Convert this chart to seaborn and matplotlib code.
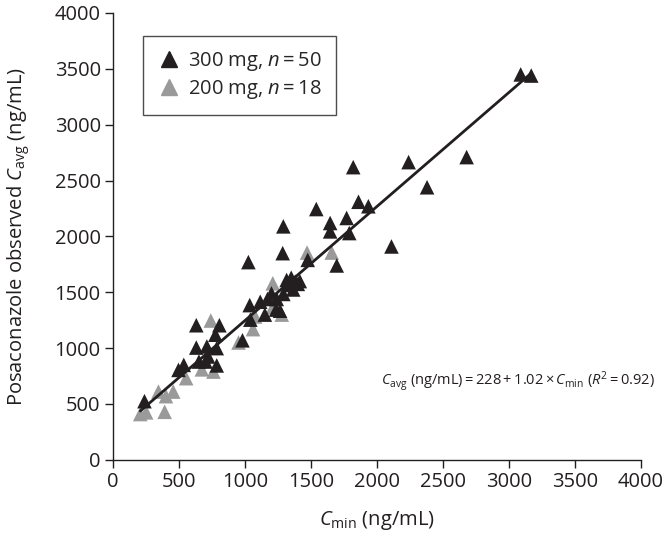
import numpy as np
import pandas as pd
import matplotlib
matplotlib.use("Agg")
import matplotlib.pyplot as plt
import seaborn as sns

# Data (ng/mL)
cmin_300 = [3090, 3170, 2680, 2380, 2240, 2110, 1935, 1860, 1820, 1790,
            1770, 1695, 1645, 1645, 1540, 1475, 1290, 1285, 1025, 1315,
            1380, 1400, 1330, 1365, 1200, 1290, 1240, 1115, 1035, 1040,
            1150, 1265, 980, 630, 805, 775, 630, 710, 785, 650,
            700, 785, 535, 495, 237, 1235, 1350, 720, 1170, 1415]
cavg_300 = [3450, 3440, 2710, 2440, 2665, 1910, 2270, 2310, 2620, 2030,
            2165, 1740, 2045, 2120, 2245, 1790, 2090, 1850, 1770, 1610,
            1595, 1575, 1565, 1525, 1490, 1485, 1440, 1415, 1385, 1255,
            1300, 1335, 1070, 1205, 1205, 1120, 1005, 1015, 1000, 880,
            880, 845, 850, 805, 525, 1345, 1630, 925, 1440, 1600]

cmin_200 = [205, 250, 343, 390, 400, 455, 553, 672, 760, 740,
            950, 1060, 1076, 1210, 1210, 1278, 1470, 1657]
cavg_200 = [410, 425, 611, 430, 570, 611, 731, 810, 790, 1247,
            1050, 1170, 1283, 1580, 1366, 1300, 1855, 1855]

# regression reported in the figure
intercept = 228
slope = 1.02
r2 = 0.92

labels = [r"300 mg, $n = 50$", r"200 mg, $n = 18$"]
colors = ["#231f20", "#9a9a9a"]

df = pd.DataFrame({
    "cmin": cmin_200 + cmin_300,
    "cavg": cavg_200 + cavg_300,
    "group": [labels[1]] * len(cmin_200) + [labels[0]] * len(cmin_300),
})

sns.set_style("ticks")
plt.rcParams["font.family"] = ["Open Sans", "DejaVu Sans"]
plt.rcParams["mathtext.fontset"] = "custom"
plt.rcParams["mathtext.rm"] = "Open Sans"
plt.rcParams["mathtext.it"] = "Open Sans:italic"
plt.rcParams["mathtext.bf"] = "Open Sans:bold"

fig = plt.figure(figsize=(6.66, 5.41), dpi=100)
ax = fig.add_axes([0.170, 0.150, 0.792, 0.826])

sns.scatterplot(data=df, x="cmin", y="cavg", hue="group",
                hue_order=[labels[1], labels[0]],
                palette={labels[0]: colors[0], labels[1]: colors[1]},
                marker="^", s=110, linewidth=0, ax=ax, legend=False, zorder=2)

# fitted line across the observed Cmin range
xs = np.array([min(df["cmin"]), max(df["cmin"])])
ax.plot(xs, intercept + slope * xs, color="#231f20", lw=2, zorder=3)

ax.set_xlim(0, 4000)
ax.set_ylim(0, 4000)
ax.set_xticks(range(0, 4001, 500))
ax.set_yticks(range(0, 4001, 500))
ax.tick_params(labelsize=14.5, colors="#231f20", direction="out", length=6, width=1, pad=3)
for s in ["left", "bottom"]:
    ax.spines[s].set_color("#231f20")
    ax.spines[s].set_linewidth(1)
sns.despine(ax=ax)

ax.set_xlabel(r"$C_{\mathrm{min}}$ (ng/mL)", fontsize=14.5, color="#231f20", labelpad=12)
ax.set_ylabel(r"Posaconazole observed $C_{\mathrm{avg}}$ (ng/mL)", fontsize=14.5,
              color="#231f20", labelpad=16)

ts = "\u2009"
eq = (r"$C_{\mathrm{avg}}$ (ng/mL)" + ts + "=" + ts + f"{intercept}" + ts + "+" + ts
      + f"{slope:.2f}" + ts + "\u00d7" + ts + r"$C_{\mathrm{min}}$ ($R^2$" + ts + "=" + ts
      + f"{r2:.2f})")
ax.text(0.508, 0.175, eq, transform=ax.transAxes, fontsize=10.5, color="#231f20",
        va="center", ha="left")

# legend
handles = [plt.Line2D([], [], marker="^", ls="", color=c, markersize=12) for c in colors]
leg = ax.legend(handles, labels, loc="upper left", bbox_to_anchor=(0.057, 0.949),
                borderaxespad=0, fontsize=14.5, frameon=True, fancybox=False,
                handletextpad=0.3, borderpad=0.7, labelspacing=0.25, handlelength=1.2)
leg.get_frame().set_edgecolor("#231f20")
leg.get_frame().set_linewidth(1)

fig.savefig("out.png", dpi=100)
